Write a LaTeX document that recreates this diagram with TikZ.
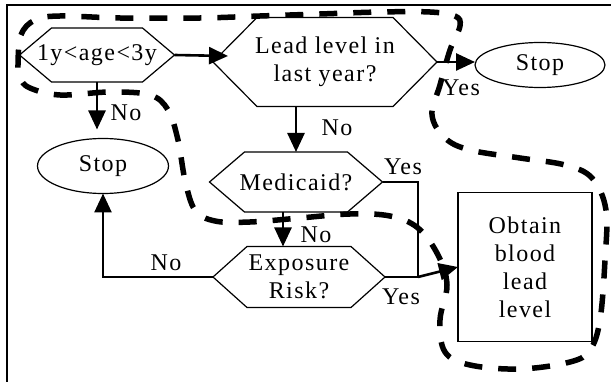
\documentclass[tikz,border=0pt]{standalone}
\usepackage{fontspec}
\setmainfont{Liberation Serif}[LetterSpace=6]
\usetikzlibrary{arrows.meta}
\usetikzlibrary{shapes.geometric}

% hexagon round a node: name, inset of the slanted sides
\newcommand{\hexframe}[2]{%
  \draw[line width=1.2pt] (#1.west) -- ([xshift=#2]#1.north west) -- ([xshift=-#2]#1.north east)
    -- (#1.east) -- ([xshift=-#2]#1.south east) -- ([xshift=#2]#1.south west) -- cycle;}

\begin{document}
\begin{tikzpicture}[x=1pt, y=-1pt,
    every node/.style={font=\fontsize{24}{28}\selectfont, inner sep=0pt, outer sep=0pt},
    stopbox/.style={draw, ellipse, line width=1.2pt},
    flow/.style={line width=2.6pt, -{Triangle[length=19pt,width=17pt]}},
    plainline/.style={line width=1.6pt},
    blob/.style={line width=5.5pt, dash pattern=on 18pt off 16pt}]
            \useasboundingbox (0,0) rectangle (611,382);

            % Draw the frame
            \draw[line width=1.5pt] (7,382) -- (7,5) -- (611,5);

            % Draw the questions
            \node (age) at (97,55) [minimum width=155pt, minimum height=54pt] {1y<age<3y};
            \hexframe{age}{32pt}

            \node (lead) at (325,62) [minimum width=224pt, minimum height=89pt, align=center] {Lead level in\\last year?};
            \hexframe{lead}{44pt}

            \node (med) at (296,182) [minimum width=173pt, minimum height=60pt] {Medicaid?};
            \hexframe{med}{35pt}

            \node (expo) at (299,277) [minimum width=172pt, minimum height=61pt, align=center] {Exposure\\Risk?};
            \hexframe{expo}{34pt}

            % Draw the end points
            \node (stopA) at (540,65) [stopbox, minimum width=130pt, minimum height=45pt] {Stop};
            \node (stopB) at (103,166) [stopbox, minimum width=131pt, minimum height=55pt] {Stop};
            \node (obtain) at (525,267) [draw, line width=1.2pt, minimum width=134pt, minimum height=149pt, align=center] {Obtain\\blood\\lead\\level};

            % Draw the connectors
            \coordinate (leadin) at (228,56);
            \coordinate (jn) at (418,277);
            \draw[flow] (age.east) -- (leadin);
            \draw[flow, shorten >=9pt] (age.south) -- (age.south |- stopB.north);
            \draw[flow] (lead.east) -- (lead.east -| stopA.west);
            \draw[flow] (med.north |- lead.south) -- (med.north);
            \draw[flow] ([xshift=-13pt]med.south) -- ([xshift=-16pt]expo.north);
            \draw[plainline] (med.east) -| (jn);
            \draw[plainline] (expo.east) -- (jn);
            \draw[flow] (jn) -- (obtain.west);
            \draw[flow] (expo.west) -| (stopB.south);

            % Draw the Yes, No labels
            \node (noA) at (126,113) {No};
            \node (yesA) at (461,88) {Yes};
            \node (noB) at (337,128) {No};
            \node (yesB) at (403,167) {Yes};
            \node (noC) at (316,235) {No};
            \node (noD) at (166,263) {No};
            \node (yesC) at (401,297) {Yes};

            % Draw the dashed outline
            \draw[blob] plot[smooth cycle, tension=0.6] coordinates {
                (18,65) (21,35) (35,20) (60,16) (120,18) (200,18) (260,16) (320,14)
                (380,12) (430,12) (455,16) (460,26) (450,50) (440,85) (432,115)
                (445,138) (470,150) (520,158) (565,165) (592,178) (606,210)
                (605,260) (600,320) (590,350) (570,362) (520,369) (470,365)
                (445,352) (440,320) (447,285) (438,255) (418,228) (390,216)
                (350,214) (300,218) (250,222) (215,221) (195,210) (185,180)
                (178,140) (168,110) (150,95) (110,92) (60,95) (30,88) (20,78)};

        \end{tikzpicture}
\end{document}
